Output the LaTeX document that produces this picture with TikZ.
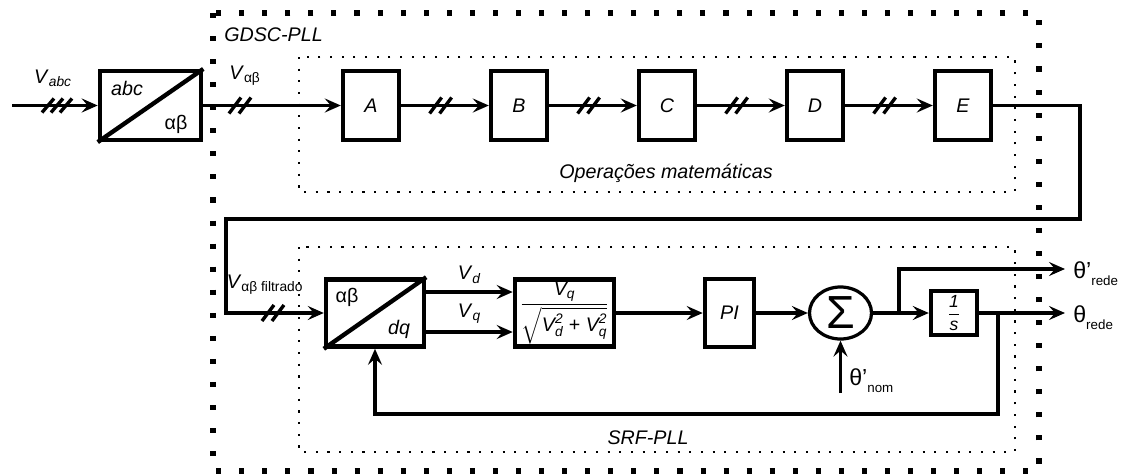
\documentclass[tikz,border=0pt]{standalone}
\usepackage{fontspec}
\setmainfont{Liberation Sans}
\usepackage{amsmath}
\usetikzlibrary{positioning,arrows.meta,calc,shapes.geometric}

\newcommand{\lbl}{\fontsize{14}{16}\selectfont}
\newcommand{\sbl}{\fontsize{9.5}{11}\selectfont}
\newcommand{\thl}{\fontsize{16.5}{18}\selectfont}

\begin{document}
\begin{tikzpicture}[
    x=0.025cm, y=-0.025cm,
    node distance=2.19cm,
    blk/.style={draw, line width=3.1pt, minimum width=1.4cm, minimum height=1.72cm,
        inner sep=0pt, font=\lbl\itshape},
    conn/.style={line width=2.6pt, -{Stealth[length=4mm, width=3.5mm, inset=1.5mm]}},
    txt/.style={inner sep=0pt, font=\lbl},
    bigdots/.style={line width=3.6pt, dash pattern=on 3.6pt off 12.8pt},
    smalldots/.style={line width=1.5pt, dash pattern=on 1.5pt off 6.8pt},
    dslash/.pic={\foreach \k in {-5,5} \draw[line width=2.4pt] (\k-6,8) -- (\k+6,-8);},
    tslash/.pic={\foreach \k in {-9,0,9} \draw[line width=2.4pt] (\k-6,7) -- (\k+6,-7);}
]
\useasboundingbox (0,0) rectangle (1136,475);

% ---- Groups ----
\draw[bigdots] (213,13) rectangle (1039,471);
\draw[smalldots] (299,57) rectangle (1015,192);
\draw[smalldots] (299,247) rectangle (1015,452);
\node[txt, anchor=west, font=\lbl\itshape] (gdsc) at (224,35) {GDSC-PLL};
\node[txt, font=\lbl\itshape] (ops) at (666,173) {Operações matemáticas};
\node[txt, font=\lbl\itshape] (srf) at (648,438) {SRF-PLL};

% ---- Transformada abc -> alfa-beta ----
\node[blk, minimum width=2.53cm] (abc) at (150.5,105.5) {};
\draw[line width=3.1pt] (abc.south west) -- (abc.north east);
\node[txt, font=\lbl\itshape] (abcin) at (127,88) {abc};
\node[txt] (abcout) at (176,124) {αβ};

% ---- Operacoes matematicas ----
\node[blk] (A) at (371,105.5) {A};
\node[blk, right=of A] (B) {B};
\node[blk, right=of B] (C) {C};
\node[blk, right=of C] (D) {D};
\node[blk, right=of D] (E) {E};

% ---- SRF-PLL ----
\node[blk, minimum width=2.45cm, minimum height=1.68cm] (dq) at (375,313) {};
\draw[line width=3.1pt] (dq.south west) -- (dq.north east);
\node[txt] (dqin) at (347,297) {αβ};
\node[txt, font=\lbl\itshape] (dqout) at (399,329) {dq};
\node[blk, minimum width=2.48cm, minimum height=1.68cm, font=\lbl] (frac) at (564.5,313)
    {$\dfrac{\textit{V}_{\textit{q}}}{\sqrt{\textit{V}_{\textit{d}}^{\textit{2}}\textup{ + }\textit{V}_{\textit{q}}^{\textit{2}}}}$};
\node[blk, minimum width=1.23cm, minimum height=1.7cm] (pi) at (729.5,313) {PI};
\node[draw, ellipse, line width=2.3pt, minimum width=1.55cm, minimum height=1.3cm,
    inner sep=0pt] (sum) at (840.5,313) {\fontsize{33}{33}\selectfont Σ};
\node[blk, minimum width=1.15cm, minimum height=1.1cm, font=\fontsize{12.5}{14}\selectfont]
    (integ) at (954,313) {$\dfrac{\textit{1}}{\textit{s}}$};

\coordinate (in) at (12,105.5);
\coordinate (ret1) at (1080,219);
\coordinate (ret2) at (226,219);
\coordinate (split1) at (899,313);
\coordinate (split2) at (998,313);
\coordinate (fbl) at (998,414);
\coordinate (out1) at (1065,269);
\coordinate (out2) at (1065,313);
\coordinate (nomin) at (840.5,393);

% Top row arrows
\draw[conn] (in) -- (abc.west);
\draw[conn] (abc.east) -- (A.west);
\draw[conn] (A) -- (B);
\draw[conn] (B) -- (C);
\draw[conn] (C) -- (D);
\draw[conn] (D) -- (E);
\pic at (57,105.5) {tslash};
\pic at (240,105.5) {dslash};
\foreach \u/\v in {A/B,B/C,C/D,D/E}
    \pic at ($(\u.east)!0.45!(\v.west)$) {dslash};
\node[txt] (vabc) at (53,78) {\textit{V}\textsubscript{\textit{abc}}};
\node[txt] (valfa) at (245,76) {\textit{V}\textsubscript{αβ}};

% Return path
\draw[conn] (E.east) -| (ret1) -- (ret2) |- (dq.west);
\pic at ($(ret2 |- dq.west)!0.48!(dq.west)$) {dslash};
\node[txt] (vfilt) at (265,285) {\textit{V}\textsubscript{αβ filtrado}};

% SRF arrows
\draw[conn] ($(dq.east)+(0,-21)$) -- node[txt, above=5pt] (vd) {\textit{V}\textsubscript{\textit{d}}}
    ($(frac.west)+(0,-21)$);
\draw[conn] ($(dq.east)+(0,19)$) -- node[txt, above=5pt] (vq) {\textit{V}\textsubscript{\textit{q}}}
    ($(frac.west)+(0,19)$);
\draw[conn] (frac) -- (pi);
\draw[conn] (pi) -- (sum);
\draw[conn] (sum) -- (integ);
\draw[conn] (split1) |- (out1);
\draw[conn] (integ) -- (out2);
\draw[conn] (split2) -- (fbl) -| (dq.south);
\draw[conn] (nomin) -- (sum.south);

% Output labels
\node[txt, anchor=base west, font=\thl] (thr1) at ($(out1)+(8,9)$) {θ’\raisebox{-5pt}{\sbl rede}};
\node[txt, anchor=base west, font=\thl] (thr2) at ($(out2)+(8,9)$) {θ\raisebox{-5pt}{\sbl rede}};
\node[txt, anchor=base west, font=\thl] (thn) at (849,385) {θ’\raisebox{-5pt}{\sbl nom}};
\end{tikzpicture}
\end{document}
